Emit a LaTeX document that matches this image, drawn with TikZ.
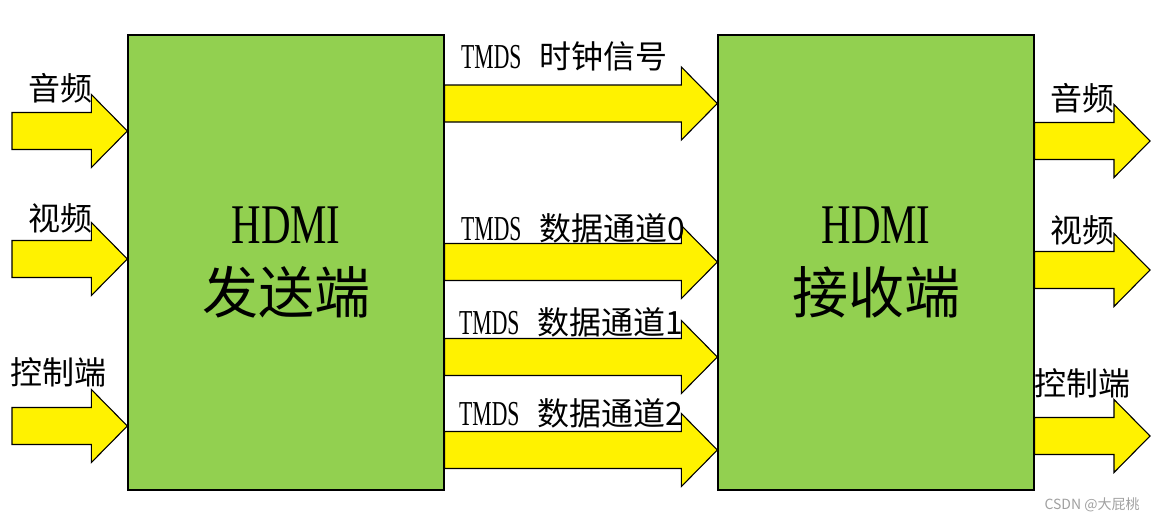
\documentclass[tikz,border=0pt]{standalone}
\usepackage{fontspec}
\newfontfamily\cjkfont{Noto Sans CJK SC}
\newfontfamily\latinfont[FakeStretch=0.73]{Liberation Serif}
\newfontfamily\latinnarrow[FakeStretch=0.62]{Liberation Serif}
\usetikzlibrary{calc, positioning}

\definecolor{boxgreen}{HTML}{92D050}
\definecolor{markgray}{HTML}{A0A0A0}

% fat block arrow from start (#1) to tip (#2)
\def\shaft{18.5}
\def\head{36.5}
\def\headlen{36}
\newcommand{\fatarrow}[2]{%
  \filldraw[fat] ($(#1)+(0,-\shaft)$) -- ($(#2)+(-\headlen,-\shaft)$)
    -- ($(#2)+(-\headlen,-\head)$) -- (#2) -- ($(#2)+(-\headlen,\head)$)
    -- ($(#2)+(-\headlen,\shaft)$) -- ($(#1)+(0,\shaft)$) -- cycle;}
\newcommand{\chan}[1]{{\fontsize{35}{36}\latinnarrow TMDS}\hspace{18pt}{\cjkfont #1}}

\begin{document}
\begin{tikzpicture}[
    x=1pt, y=-1pt,
    endbox/.style={draw=black, line width=1.3pt, fill=boxgreen,
      minimum width=316pt, minimum height=455pt, inner sep=0pt,
      align=center, font=\fontsize{56}{70}\selectfont},
    fat/.style={draw=black, line width=1.1pt, fill=yellow},
    sidelabel/.style={font=\fontsize{32}{36}\cjkfont, inner sep=0pt},
    chanlabel/.style={font=\fontsize{32}{36}\selectfont, inner sep=0pt, anchor=west}
  ]
  \useasboundingbox (0,0) rectangle (1158,522);

  % --- Transmitter / Receiver ---
  \node[endbox] (tx) at (286,262.5) {{\latinfont HDMI}\\{\cjkfont 发送端}};
  \node[endbox] (rx) at (876,262.5) {{\latinfont HDMI}\\{\cjkfont 接收端}};

  % --- Inputs ---
  \foreach \n/\yy in {a/131, v/259, c/426} {
    \coordinate (in-\n) at (12,\yy);
    \coordinate (in-\n-tip) at (tx.west |- in-\n);
    \fatarrow{in-\n}{in-\n-tip}
  }

  % --- TMDS channels ---
  \foreach \n/\yy in {clk/103.5, d0/262, d1/357, d2/450} {
    \coordinate (ch-\n) at (tx.east |- 0,\yy);
    \coordinate (ch-\n-tip) at (rx.west |- ch-\n);
    \fatarrow{ch-\n}{ch-\n-tip}
  }

  % --- Outputs ---
  \foreach \n/\yy in {a/141, v/270, c/436} {
    \coordinate (out-\n) at (rx.east |- 0,\yy);
    \coordinate (out-\n-tip) at (1150,\yy);
    \fatarrow{out-\n}{out-\n-tip}
  }

  % --- Labels ---
  \node[sidelabel] (lin-a) at (60,88) {音频};
  \node[sidelabel] (lin-v) at (60,218) {视频};
  \node[sidelabel] (lin-c) at (58,372) {控制端};

  \node[chanlabel] (lch-clk) at (461,56) {\chan{时钟信号}};
  \node[chanlabel] (lch-d0) at (461,228) {\chan{数据通道0}};
  \node[chanlabel] (lch-d1) at (459,322) {\chan{数据通道1}};
  \node[chanlabel] (lch-d2) at (459,413) {\chan{数据通道2}};

  \node[sidelabel] (lout-a) at (1082,98) {音频};
  \node[sidelabel] (lout-v) at (1082,230) {视频};
  \node[sidelabel] (lout-c) at (1082,383) {控制端};

  \node[text=markgray, font=\fontsize{14}{16}\cjkfont, inner sep=0pt] (mark) at (1092,505) {CSDN @大屁桃};

\end{tikzpicture}
\end{document}
